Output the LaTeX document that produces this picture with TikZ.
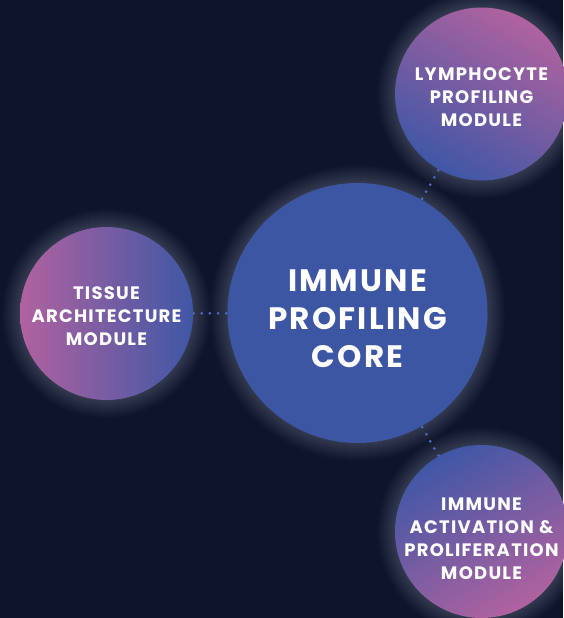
\documentclass[tikz,border=0pt]{standalone}
\usepackage{fontspec}
\setmainfont{Poppins}[LetterSpace=7]
\usetikzlibrary{backgrounds}
\definecolor{bgc}{HTML}{0E1429}
\definecolor{coreblue}{HTML}{3D56A4}
\definecolor{modpink}{HTML}{B0629F}
\definecolor{modblue}{HTML}{3F57A6}
\definecolor{dotblue}{HTML}{5069BC}
\tikzset{
  core/.style={circle, inner sep=0pt, minimum size=260pt, fill=coreblue},
  module/.style={circle, inner sep=0pt, minimum size=173pt},
  coretext/.style={text=white, inner sep=0pt, font=\fontsize{31}{38}\selectfont\bfseries, align=center},
  modtext/.style={text=white, inner sep=0pt, font=\fontsize{18}{23}\selectfont\bfseries, align=center},
  dotcon/.style={draw=dotblue, line width=3pt, line cap=round, dash pattern=on 0pt off 8.2pt},
}
\newcommand{\glowat}[2]{%
  \foreach \k in {1,...,18}{\fill[white, opacity=0.012] (#1) circle ({#2+\k});}}
\begin{document}
\begin{tikzpicture}[x=1pt,y=-1pt]
\useasboundingbox (0,0) rectangle (563,618);
\node[core, label={[coretext, yshift=-6pt]center:{IMMUNE\\PROFILING\\CORE}}] (core) at (357.5,313) {};
\node[module, top color=modpink, bottom color=modblue, shading angle=-30,
  label={[modtext, yshift=-3pt]center:{LYMPHOCYTE\\PROFILING\\MODULE}}] (lymph) at (481.5,94) {};
\node[module, left color=modpink, right color=modblue,
  label={[modtext, yshift=-2.5pt]center:{TISSUE\\ARCHITECTURE\\MODULE}}] (tissue) at (106.5,313.5) {};
\node[module, top color=modblue, bottom color=modpink, shading angle=30,
  label={[modtext, yshift=-7pt]center:{IMMUNE\\ACTIVATION \&\\PROLIFERATION\\MODULE}}] (activ) at (481.5,531.5) {};
\begin{scope}[on background layer]
  \fill[bgc] (0,0) rectangle (563,618);
  \glowat{core}{130}
  \glowat{lymph}{86.5}
  \glowat{tissue}{86.5}
  \glowat{activ}{86.5}
  \path[dotcon] (core.center) -- (tissue.center);
  \path[dotcon] (core.center) -- (lymph.center);
  \path[dotcon] (core.center) -- (activ.center);
\end{scope}
\end{tikzpicture}
\end{document}
